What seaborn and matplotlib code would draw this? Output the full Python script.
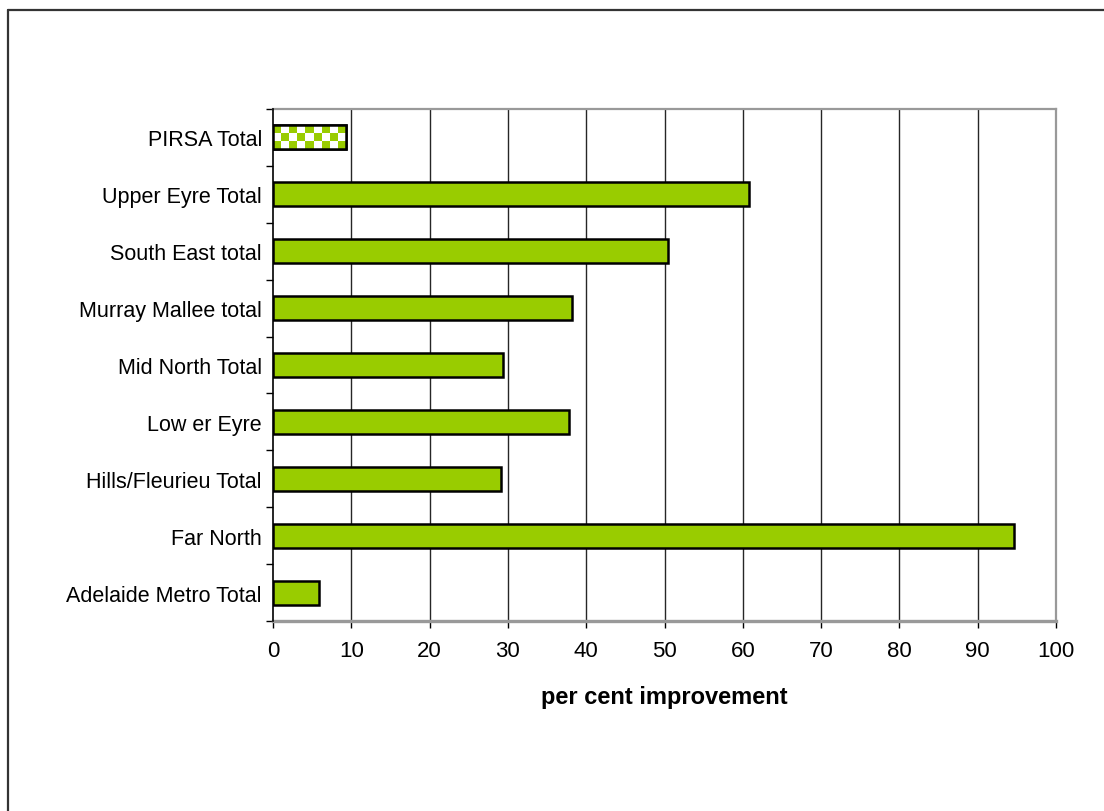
import numpy as np
import pandas as pd
import matplotlib
matplotlib.use("Agg")
import matplotlib.pyplot as plt
from matplotlib.colors import ListedColormap
from matplotlib.lines import Line2D
import seaborn as sns

regions = [
    "PIRSA Total",
    "Upper Eyre Total",
    "South East total",
    "Murray Mallee total",
    "Mid North Total",
    "Low er Eyre",
    "Hills/Fleurieu Total",
    "Far North",
    "Adelaide Metro Total",
]
improvement = [9.3, 60.8, 50.4, 38.2, 29.4, 37.8, 29.1, 94.6, 5.9]
x_ticks = [0, 10, 20, 30, 40, 50, 60, 70, 80, 90, 100]
x_label = "per cent improvement"

BAR_GREEN = "#99CC00"

sns.set_theme(style="white")
plt.rcParams["font.family"] = ["Liberation Sans", "DejaVu Sans"]
plt.rcParams["text.color"] = "black"
plt.rcParams["axes.labelcolor"] = "black"
plt.rcParams["xtick.color"] = "black"
plt.rcParams["ytick.color"] = "black"

df = pd.DataFrame({"region": regions, "improvement": improvement})

fig = plt.figure(figsize=(11.04, 8.12), dpi=100)
fig.patch.set_facecolor("white")
ax = fig.add_axes([273 / 1104, 1 - 622 / 812, (1056 - 273) / 1104, (622 - 110) / 812])

sns.barplot(data=df, x="improvement", y="region", order=regions, orient="h",
            color=BAR_GREEN, saturation=1, width=0.42,
            edgecolor="black", linewidth=1.8, ax=ax, zorder=3)

ax.set_xlim(0, 100)
ax.set_ylim(len(regions) - 0.5, -0.5)

# checkerboard fill for the overall PIRSA bar
bar = ax.patches[0]
bx, by, bw, bh = bar.get_x(), bar.get_y(), bar.get_width(), bar.get_height()
bar.set_facecolor("white")
n_cols, n_rows = 9, 3
checker = (np.add.outer(np.arange(n_rows), np.arange(n_cols)) % 2 == 0).astype(float)
img = ax.imshow(checker, cmap=ListedColormap(["white", BAR_GREEN]), vmin=0, vmax=1,
                extent=[bx, bx + bw, by + bh, by], interpolation="nearest",
                aspect="auto", zorder=3.5)
img.set_clip_path(bar)
edge = plt.Rectangle((bx, by), bw, bh, facecolor="none", edgecolor="black",
                     linewidth=1.8, zorder=4)
ax.add_patch(edge)

# vertical gridlines
for v in x_ticks[1:-1]:
    ax.axvline(v, color="#262626", linewidth=1.0, zorder=1)

ax.set_xticks(x_ticks)
ax.set_xticklabels([str(t) for t in x_ticks])
ax.set_yticks(range(len(regions)))
ax.set_yticks(np.arange(-0.5, len(regions)), minor=True)

ax.tick_params(axis="x", which="major", direction="out", length=5, width=1,
               color="black", labelcolor="black", labelsize=16, pad=9, bottom=True)
ax.tick_params(axis="y", which="major", length=0, labelsize=15.5,
               labelcolor="black", pad=8, left=True)
ax.tick_params(axis="y", which="minor", direction="out", length=5, width=1,
               color="black", left=True)

ax.set_xlabel(x_label, fontsize=17, fontweight="bold", labelpad=17, color="black")
ax.set_ylabel("")

for side in ["top", "right"]:
    ax.spines[side].set_visible(True)
    ax.spines[side].set_color("#999999")
    ax.spines[side].set_linewidth(1.6)
ax.spines["bottom"].set_color("#999999")
ax.spines["bottom"].set_linewidth(2.4)
ax.spines["left"].set_color("black")
ax.spines["left"].set_linewidth(1.2)
ax.spines["left"].set_zorder(5)

# outer chart frame (left and top edges)
fig.add_artist(Line2D([8 / 1104, 8 / 1104], [0, 1 - 11 / 812],
                      transform=fig.transFigure, color="#333333", linewidth=1.6))
fig.add_artist(Line2D([8 / 1104, 1], [1 - 11 / 812, 1 - 11 / 812],
                      transform=fig.transFigure, color="#333333", linewidth=1.6))

fig.savefig("out.png", dpi=100, facecolor="white")
